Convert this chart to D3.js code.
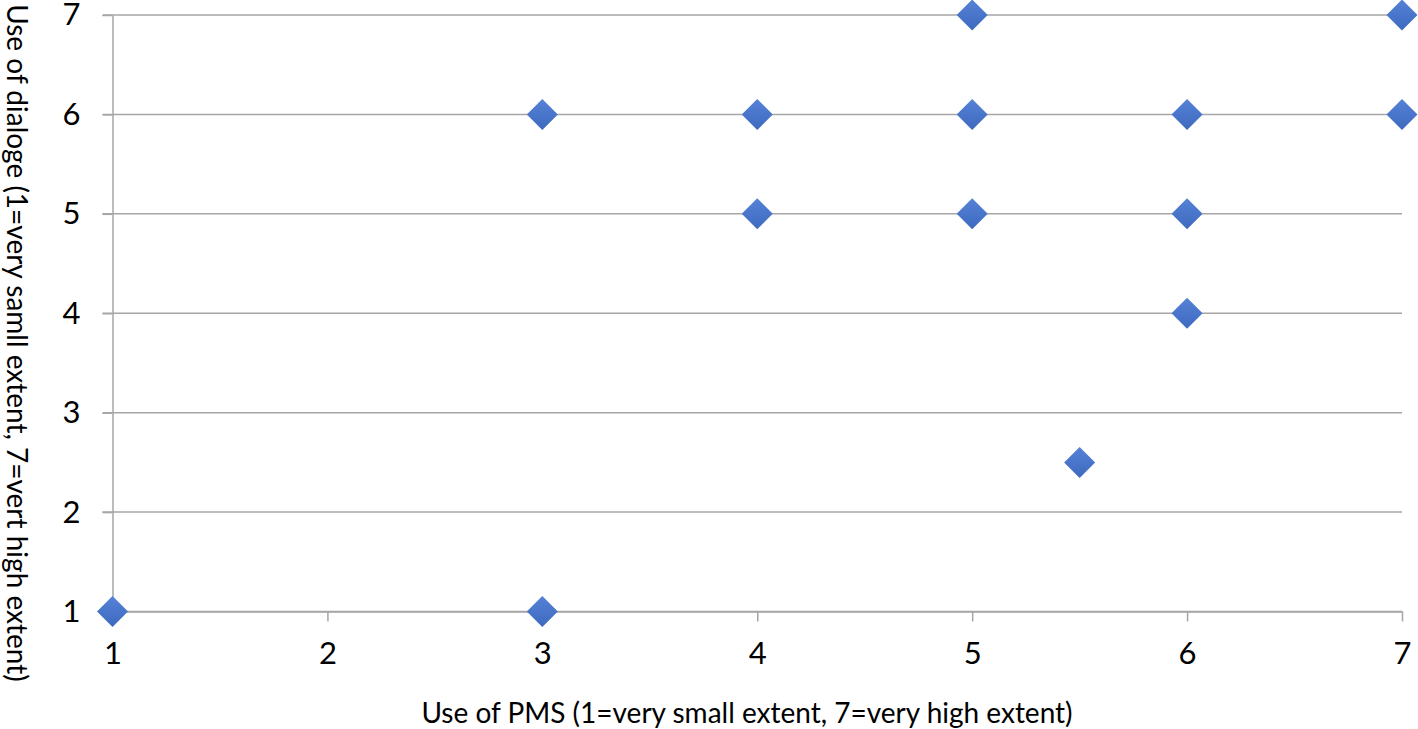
<!DOCTYPE html>
<html>
<head>
<meta charset="utf-8">
<script src="https://cdn.jsdelivr.net/npm/d3@7"></script>
<style>
  body { margin: 0; background: #fff; }
  svg text { font-family: Lato, "Open Sans", sans-serif; fill: #000; }
  .axis path, .axis line { stroke: #a6a6a6; stroke-width: 1.5px; }
</style>
</head>
<body>
<div id="chart"></div>
<script>
// data
var pmsUse = [1, 3, 3, 4, 4, 5, 5, 5, 5.5, 6, 6, 6, 7, 7];
var dialogUse = [1, 1, 6, 6, 5, 7, 6, 5, 2.5, 6, 5, 4, 7, 6];
var xTicks = [1, 2, 3, 4, 5, 6, 7];
var yTicks = [1, 2, 3, 4, 5, 6, 7];
var xTitle = 'Use of PMS (1=very small extent, 7=very high extent)';
var yTitle = 'Use of dialoge (1=very samll extent, 7=vert high extent)';

var width = 1418, height = 729;
var margin = { top: 15, right: 16, bottom: 117.5, left: 112.5 };

var svg = d3.select('#chart').append('svg')
  .attr('width', width)
  .attr('height', height);

var defs = svg.append('defs');
var grad = defs.append('linearGradient')
  .attr('id', 'dia')
  .attr('x1', 0).attr('y1', 0).attr('x2', 0).attr('y2', 1);
grad.append('stop').attr('offset', '0%').attr('stop-color', '#5582d6');
grad.append('stop').attr('offset', '100%').attr('stop-color', '#3d69be');

var x = d3.scaleLinear().domain([1, 7]).range([margin.left, width - margin.right]);
var y = d3.scaleLinear().domain([1, 7]).range([height - margin.bottom, margin.top]);

// horizontal gridlines
svg.append('g')
  .selectAll('line')
  .data(yTicks)
  .enter()
  .append('line')
  .attr('x1', x(1) - 10)
  .attr('x2', x(7))
  .attr('y1', function (d) { return y(d); })
  .attr('y2', function (d) { return y(d); })
  .attr('stroke', '#a6a6a6')
  .attr('stroke-width', 1.5);

// y axis
var yAxis = svg.append('g')
  .attr('class', 'axis')
  .attr('transform', 'translate(' + x(1) + ',0)')
  .call(d3.axisLeft(y).tickValues(yTicks).tickSize(10).tickSizeOuter(0).tickPadding(22).tickFormat(d3.format('d')));
yAxis.selectAll('text').style('font-size', '31px');

// x axis
var xAxis = svg.append('g')
  .attr('class', 'axis')
  .attr('transform', 'translate(0,' + y(1) + ')')
  .call(d3.axisBottom(x).tickValues(xTicks).tickSize(10).tickSizeOuter(0).tickPadding(20).tickFormat(d3.format('d')));
xAxis.selectAll('text').style('font-size', '31px');

// diamonds
var r = 15.5;
svg.append('g')
  .selectAll('path')
  .data(pmsUse.map(function (v, i) { return [v, dialogUse[i]]; }))
  .enter()
  .append('path')
  .attr('transform', function (d) { return 'translate(' + x(d[0]) + ',' + y(d[1]) + ')'; })
  .attr('d', 'M0,' + (-r) + 'L' + r + ',0L0,' + r + 'L' + (-r) + ',0Z')
  .attr('fill', 'url(#dia)');

// axis titles
svg.append('text')
  .attr('x', 747)
  .attr('y', 723)
  .attr('text-anchor', 'middle')
  .style('font-size', '28px')
  .text(xTitle);

svg.append('text')
  .attr('transform', 'translate(7,343) rotate(90)')
  .attr('text-anchor', 'middle')
  .style('font-size', '28px')
  .text(yTitle);
</script>
</body>
</html>
